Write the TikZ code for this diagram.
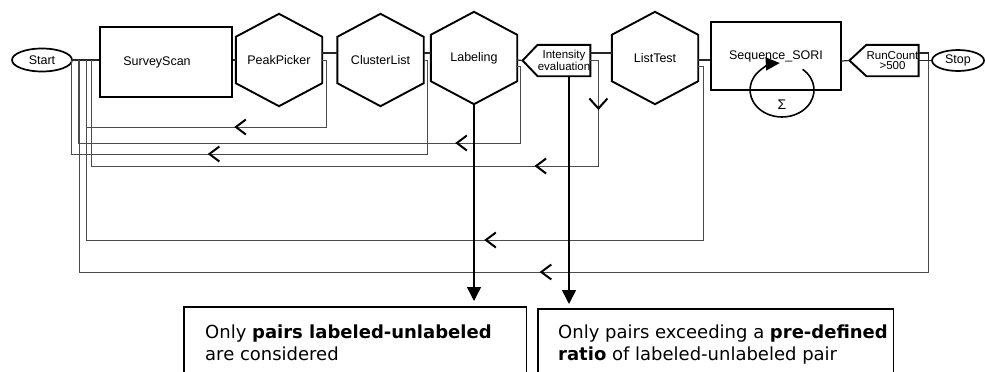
\documentclass[tikz,border=0pt]{standalone}
\usepackage{fontspec}
\setmainfont{Liberation Sans}
\newfontfamily\notefont{DejaVu Sans}
\usetikzlibrary{shapes.geometric,arrows.meta,positioning,calc,decorations.markings}

\tikzset{
  lbl/.style={font=\fontsize{12.5}{13}\selectfont},
  termnode/.style={lbl,ellipse,draw,line width=1.7pt,inner sep=0pt},
  stepbox/.style={lbl,draw,line width=1.9pt,inner sep=0pt},
  hexbox/.style={lbl,minimum width=86pt,minimum height=46pt,inner sep=0pt},
  tagbox/.style={font=\fontsize{11.5}{10.5}\selectfont,align=center,minimum width=#1,minimum height=31pt,inner sep=0pt},
  outline/.style={line width=1.9pt,line join=miter},
  flow/.style={line width=1.2pt,black!85},
  fb/.style={line width=0.9pt,black!70},
  backmark/.style={postaction={decorate,decoration={markings,mark=at position #1 with
    {\pgfsetlinewidth{2pt}\pgfsetstrokecolor{black}\arrow{Straight Barb[length=10pt,width=15pt]}}}}},
  downmark/.style={postaction={decorate,decoration={markings,mark=at position #1 with
    {\pgfsetlinewidth{2pt}\pgfsetstrokecolor{black}\arrow{Straight Barb[length=10pt,width=18pt]}}}}},
  noteframe/.style={minimum height=#1,inner sep=0pt,anchor=north west},
  notetext/.style={font=\notefont\fontsize{18}{22}\selectfont,align=left,inner sep=0pt},
  pick/.style={line width=1.5pt,-{Triangle[length=14pt,width=14pt]}}
}

\begin{document}
\begin{tikzpicture}[x=1pt,y=-1pt]
\useasboundingbox (0,0) rectangle (985,372);
% ---------- top row ----------
\node[termnode,minimum width=60pt,minimum height=23pt] (st) at (42,60) {Start};
\node[stepbox,minimum width=132pt,minimum height=70pt] (ss) at (166,62) {SurveyScan\kern18pt\relax};
\node[hexbox] (pp) at (279,60) {PeakPicker};
\node[hexbox] (cl) at (380.5,60) {ClusterList};
\node[hexbox] (lab) at (474,58) {Labeling};
\node[tagbox=52pt] (ie) at (564,60.5) {Intensity\\evaluation};
\node[hexbox] (lt) at (655,58) {ListTest};
\node[stepbox,minimum width=130pt,minimum height=68pt] (sq) at (776,56) {Sequence\_SORI};
\node[tagbox=51pt] (rc) at (892.5,60.5) {RunCount\\>500};
\node[termnode,minimum width=52pt,minimum height=21pt] (sp) at (958,60.5) {Stop};
% hexagons and tags
\foreach \n in {pp,cl,lab,lt}
  \draw[outline] (\n.north west) -- ([yshift=23pt]\n.north) -- (\n.north east)
    -- (\n.south east) -- ([yshift=-23pt]\n.south) -- (\n.south west) -- cycle;
\foreach \n/\t in {ie/15,rc/17}
  \draw[outline] (\n.north west) -- (\n.north east) -- (\n.south east)
    -- (\n.south west) -- ([xshift=-\t pt]\n.west) -- cycle;
\coordinate (ietip) at ([xshift=-15pt]ie.west);
\coordinate (rctip) at ([xshift=-17pt]rc.west);
\coordinate (rcj) at ([xshift=10pt]rc.east);
% loop in Sequence_SORI
\coordinate (loopc) at (782,90);
\draw[outline,line width=1.6pt,-{Triangle[length=14pt,width=13pt]}]
  ([xshift=20.6pt,yshift=20.7pt]loopc) arc[start angle=50,end angle=-266,x radius=32pt,y radius=27pt];
\node[font=\fontsize{14}{14}\selectfont] (sig) at (782,105) {Σ};
% ---------- forward links ----------
\draw[flow] (st.east) -- (st.east -| ss.west);
\draw[flow] (ss.east |- pp.west) -- (pp.west);
\draw[flow] ([yshift=7pt]pp.east) -- ([yshift=7pt]cl.west);
\draw[flow] ([yshift=7pt]cl.east) -- ([yshift=5pt]lab.west);
\draw[flow] ([yshift=-2pt]lab.east) -- (ietip);
\draw[flow] ([yshift=7.5pt]ie.east) -- ([yshift=5pt]lt.west);
\draw[flow] ([yshift=-2pt]lt.east) -- ([yshift=-4pt]sq.west);
\draw[flow] ([yshift=-5pt]sq.east) -- (rctip);
\draw[flow] ([yshift=7.5pt]rc.east) -| (rcj);
\draw[flow] (rc.east) -- (sp.west);
% ---------- feedback loops ----------
\coordinate (k1) at (86,127);
\coordinate (k2) at (78,143);
\coordinate (k3) at (71,154);
\coordinate (k4) at (91,166);
\coordinate (k5) at (86,240);
\coordinate (k6) at (79,272);
\draw[fb,backmark=163pt] (pp.east) -- ++(4,0) |- (k1) -- (k1 |- st.east);
\draw[fb,backmark=145pt] ([yshift=-8pt]lab.east) -- ++(3,0) |- (k2) -- (k2 |- st.east);
\draw[fb,backmark=318pt] (cl.east) -- ++(4,0) |- (k3) -- (k3 |- st.east);
\draw[fb,downmark=57.5pt,backmark=177.5pt] (ie.east) -- ++(8,0) |- (k4) -- (k4 |- st.east);
\draw[fb,backmark=398pt] ([yshift=-8pt]lt.east) -- ++(5,0) |- (k5) -- (k5 |- st.east);
\draw[fb,backmark=600.5pt] (rcj) |- (k6) -- (k6 |- st.east);
% ---------- notes ----------
\node[noteframe=65pt,minimum width=342pt] (f1) at (184,307) {};
\node[noteframe=63pt,minimum width=355pt] (f2) at (538,309) {};
\foreach \f in {f1,f2}
  \draw[line width=1.1pt] (\f.south west) -- (\f.north west) -- (\f.north east) -- (\f.south east);
\node[notetext,below right=18pt and 21pt of f1.north west] (t1)
  {Only \textbf{pairs labeled-unlabeled}\\are considered};
\node[notetext,below right=16pt and 20pt of f2.north west] (t2)
  {Only pairs exceeding a \textbf{pre-defined}\\\textbf{ratio} of labeled-unlabeled pair};
\coordinate (labtip) at ([yshift=-23pt]lab.south);
\coordinate (iefoot) at ([xshift=5pt]ie.south);
\draw[pick,shorten >=6pt] (labtip) -- (labtip |- f1.north);
\draw[pick,shorten >=5pt] (iefoot) -- (iefoot |- f2.north);
\end{tikzpicture}
\end{document}
